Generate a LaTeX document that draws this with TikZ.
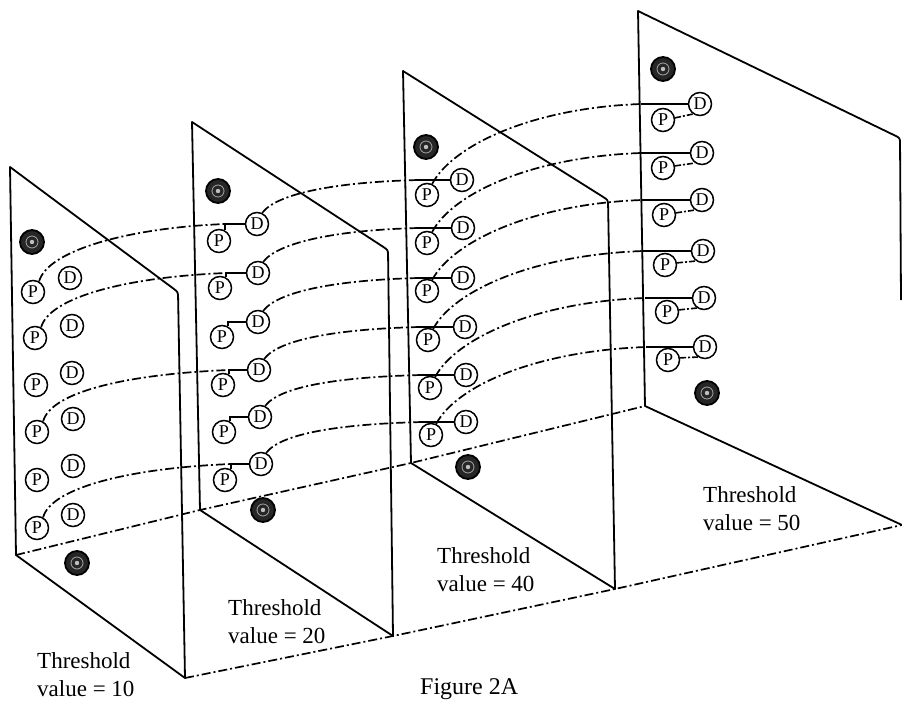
\documentclass[tikz,border=0pt]{standalone}
\usepackage{fontspec}
\setmainfont{Liberation Serif}
\usetikzlibrary{calc}
\begin{document}
\begin{tikzpicture}[x=1pt,y=-1pt,
  panel/.style={line width=1.8pt, line join=round},
  dd/.style={line width=1.7pt, dash pattern=on 9pt off 3pt on 2pt off 3pt},
  ddshort/.style={line width=1.6pt, dash pattern=on 6pt off 2pt on 2pt off 2pt},
  conn/.style={line width=1.5pt},
  pd/.style={circle, draw, fill=white, line width=1.5pt, minimum size=23pt, inner sep=0pt, font=\fontsize{18}{18}\selectfont},
  dark/.style={circle, draw, fill=black!85, line width=1.8pt, minimum size=24pt, inner sep=0pt,
    path picture={\draw[gray!70, line width=0.8pt] (path picture bounding box.center) circle (6pt);
                  \fill[gray!50] (path picture bounding box.center) circle (2.2pt);}},
  lbl/.style={anchor=north west, inner sep=0pt, align=left, font=\fontsize{23}{28}\selectfont}
]
\useasboundingbox (0,0) rectangle (902,701);
\fill[white] (0,0) rectangle (902,701);

% panel corners
\coordinate (a1tl) at (10,167);  \coordinate (a1tr) at (178,292);
\coordinate (a1br) at (185,678); \coordinate (a1bl) at (16,555);
\coordinate (a2tl) at (192,122); \coordinate (a2tr) at (388,250);
\coordinate (a2br) at (393,636); \coordinate (a2bl) at (200,510);
\coordinate (a3tl) at (403,71);  \coordinate (a3tr) at (608,200);
\coordinate (a3br) at (615,589); \coordinate (a3bl) at (411,463);
\coordinate (a4tl) at (638,11);  \coordinate (a4tr) at (900,138);
\coordinate (a4br) at (902,525); \coordinate (a4bl) at (645,406);
\coordinate (a4re) at (901,300);

% panels
\foreach \k in {1,2,3}{
  \draw[panel] (a\k bl) -- (a\k tl) -- ($(a\k tr)!6pt!(a\k tl)$) .. controls (a\k tr) .. ($(a\k tr)!6pt!(a\k br)$) -- (a\k br) -- cycle;
}
\draw[panel] (a4br) -- (a4bl) -- (a4tl) -- ($(a4tr)!6pt!(a4tl)$) .. controls (a4tr) .. ($(a4tr)!6pt!(a4re)$) -- (a4re);

% floor lines
\draw[dd] (a1br) -- (a2br) -- (a3br) -- (a4br);
\draw[dd] (a1bl) -- (a2bl) -- (a3bl) -- (a4bl);

% panel 1
\node[dark] (A1) at (32,242) {};
\node[pd] (P11) at (33,292) {P}; \node[pd] (D11) at (70,278) {D};
\node[pd] (P12) at (35,338) {P}; \node[pd] (D12) at (72,326) {D};
\node[pd] (P13) at (36,385) {P}; \node[pd] (D13) at (72,373) {D};
\node[pd] (P14) at (37,432) {P}; \node[pd] (D14) at (73,419) {D};
\node[pd] (P15) at (37,480) {P}; \node[pd] (D15) at (73,466) {D};
\node[pd] (P16) at (37,528) {P}; \node[pd] (D16) at (73,515) {D};
\node[dark] (B1) at (77,563) {};

% panel 2
\node[dark] (A2) at (218,191) {};
\node[pd] (P21) at (219,241) {P}; \node[pd] (D21) at (257,224) {D};
\node[pd] (P22) at (220,288) {P}; \node[pd] (D22) at (258,273) {D};
\node[pd] (P23) at (222,337) {P}; \node[pd] (D23) at (258,322) {D};
\node[pd] (P24) at (223,385) {P}; \node[pd] (D24) at (259,370) {D};
\node[pd] (P25) at (224,432) {P}; \node[pd] (D25) at (260,417) {D};
\node[pd] (P26) at (225,480) {P}; \node[pd] (D26) at (261,464) {D};
\node[dark] (B2) at (263,510) {};

% panel 3
\node[dark] (A3) at (426,147) {};
\node[pd] (P31) at (427,195) {P}; \node[pd] (D31) at (462,180) {D};
\node[pd] (P32) at (427,243) {P}; \node[pd] (D32) at (463,228) {D};
\node[pd] (P33) at (427,291) {P}; \node[pd] (D33) at (463,278) {D};
\node[pd] (P34) at (428,340) {P}; \node[pd] (D34) at (465,327) {D};
\node[pd] (P35) at (430,388) {P}; \node[pd] (D35) at (466,375) {D};
\node[pd] (P36) at (431,435) {P}; \node[pd] (D36) at (466,422) {D};
\node[dark] (B3) at (468,467) {};

% panel 4
\node[dark] (A4) at (663,69) {};
\node[pd] (P41) at (663,120) {P}; \node[pd] (D41) at (700,104) {D};
\node[pd] (P42) at (663,168) {P}; \node[pd] (D42) at (702,153) {D};
\node[pd] (P43) at (664,215) {P}; \node[pd] (D43) at (702,200) {D};
\node[pd] (P44) at (665,265) {P}; \node[pd] (D44) at (703,251) {D};
\node[pd] (P45) at (667,312) {P}; \node[pd] (D45) at (704,298) {D};
\node[pd] (P46) at (668,360) {P}; \node[pd] (D46) at (705,347) {D};
\node[dark] (B4) at (707,393) {};

% connections panel 1 -> panel 2
\foreach \r in {1,2,4,6}{
  \draw[dd] (P1\r.60) .. controls +(8,-30) and +(-100,4) .. (P2\r.60 |- D2\r.west);
}
% connections panel 2 -> 3 -> 4
\foreach \r in {1,...,6}{
  \draw[conn] (P2\r.60) |- (D2\r.west);
  \draw[dd] (D2\r.65) .. controls +(15,-20) and +(-80,2) .. (P3\r.north west |- D3\r.west);
  \draw[conn] (P3\r.north west |- D3\r.west) -- (D3\r.west);
  \draw[dd] (P3\r.65) .. controls +(20,-38) and +(-110,4) .. ($(P4\r.west |- D4\r.west)+(-10,0)$);
  \draw[conn] ($(P4\r.west |- D4\r.west)+(-10,0)$) -- (D4\r.west);
  \draw[ddshort] (P4\r.10) -- (D4\r.235);
}

% labels
\node[lbl] (L1) at (37,652) {Threshold\\value = 10};
\node[lbl] (L2) at (228,599) {Threshold\\value = 20};
\node[lbl] (L3) at (437,547) {Threshold\\value = 40};
\node[lbl] (L4) at (703,486) {Threshold\\value = 50};
\node[anchor=base west, inner sep=0pt, font=\fontsize{24}{28}\selectfont] (F) at (420,694) {Figure 2A};
\end{tikzpicture}
\end{document}
